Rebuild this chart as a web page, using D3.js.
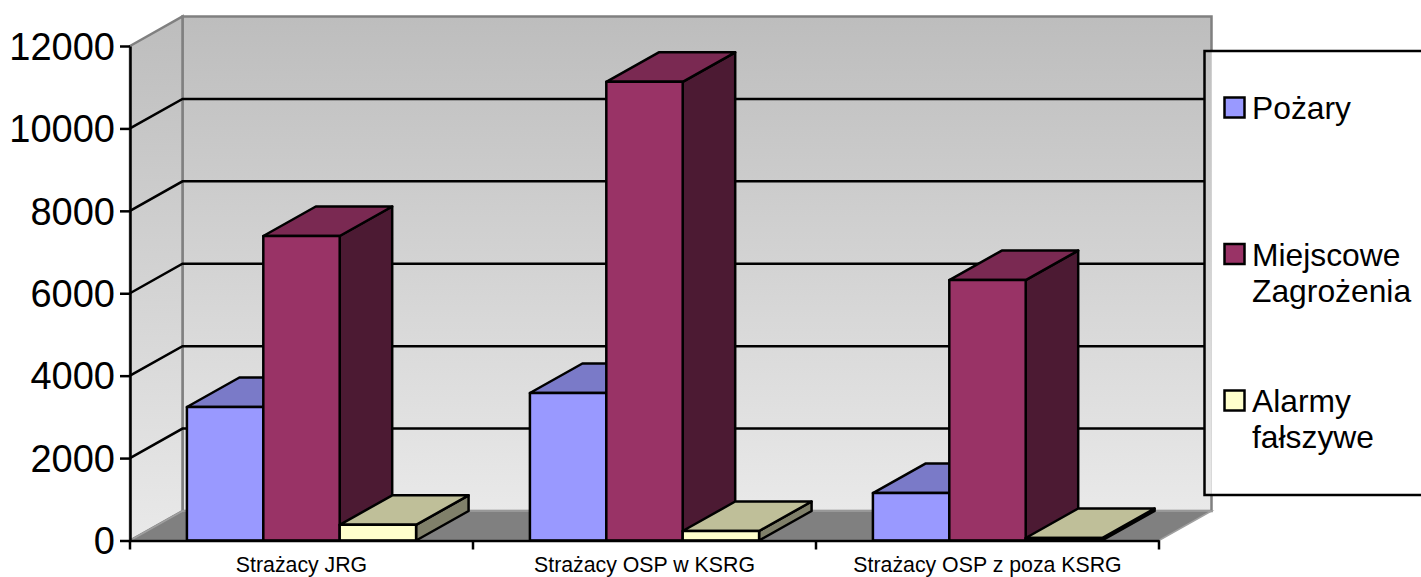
<!DOCTYPE html>
<html>
<head>
<meta charset="utf-8">
<script src="https://cdn.jsdelivr.net/npm/d3@7"></script>
<style>
  html, body { margin: 0; padding: 0; background: #fff; overflow: hidden; }
  svg { display: block; }
  text { font-family: "Liberation Sans", Arial, sans-serif; fill: #000; }
</style>
</head>
<body>
<svg id="chart" width="1421" height="577"></svg>
<script>
var categories = ["Strażacy JRG", "Strażacy OSP w KSRG", "Strażacy OSP z poza KSRG"];
var seriesNames = ["Pożary", "Miejscowe Zagrożenia", "Alarmy fałszywe"];
var pozary = [3240, 3580, 1150];
var miejscowe = [7390, 11130, 6320];
var alarmy = [380, 230, 60];
var yTicks = [0, 2000, 4000, 6000, 8000, 10000, 12000];
var legendLines = [["Pożary"], ["Miejscowe", "Zagrożenia"], ["Alarmy", "fałszywe"]];

var seriesValues = [pozary, miejscowe, alarmy];
var frontColors = ["#9999ff", "#993366", "#ffffcc"];
var topColors = ["#7a7ac8", "#7a2952", "#bfbf99"];
var sideColors = ["#5c5c99", "#4c1a33", "#80806a"];

// plot box, the depth offset is what makes it look 3d
var left = 130, right = 1159, top_ = 46, bottom = 540.5;
var depthX = 52.5, depthY = -29.5;
var legendBox = { x: 1204.5, y: 51, bottom: 495 };

var svg = d3.select("#chart");

var x = d3.scaleBand().domain(categories).range([left, right]);
var xInner = d3.scaleBand().domain(seriesNames)
  .range([0, x.bandwidth()]).paddingInner(0).paddingOuter(0.745);
var y = d3.scaleLinear().domain([0, 12000]).range([bottom, top_]);

var defs = svg.append("defs");
var grad = defs.append("linearGradient")
  .attr("id", "wall").attr("x1", 0).attr("y1", 0).attr("x2", 0).attr("y2", 1);
grad.append("stop").attr("offset", "0%").attr("stop-color", "#bdbdbd");
grad.append("stop").attr("offset", "100%").attr("stop-color", "#e9e9e9");
// same colours in page coordinates, for the strip seen inside the legend
var gradBack = defs.append("linearGradient")
  .attr("id", "wallBack").attr("gradientUnits", "userSpaceOnUse")
  .attr("x1", 0).attr("y1", y(12000) + depthY).attr("x2", 0).attr("y2", y(0) + depthY);
gradBack.append("stop").attr("offset", "0%").attr("stop-color", "#bdbdbd");
gradBack.append("stop").attr("offset", "100%").attr("stop-color", "#e9e9e9");

function pts(list) {
  return list.map(function (p) { return p[0] + "," + p[1]; }).join(" ");
}

// walls and floor
var backL = left + depthX, backR = right + depthX;
svg.append("polygon")
  .attr("points", pts([[backL, y(12000) + depthY], [backR, y(12000) + depthY], [backR, y(0) + depthY], [backL, y(0) + depthY]]))
  .attr("fill", "url(#wallBack)").attr("stroke", "#808080").attr("stroke-width", 2.5);
svg.append("polygon")
  .attr("points", pts([[left, y(12000)], [backL, y(12000) + depthY], [backL, y(0) + depthY], [left, y(0)]]))
  .attr("fill", "url(#wall)").attr("stroke", "#808080").attr("stroke-width", 2.5);
svg.append("polygon")
  .attr("points", pts([[left, y(0)], [backL, y(0) + depthY], [backR, y(0) + depthY], [right, y(0)]]))
  .attr("fill", "#808080").attr("stroke", "#a0a0a0").attr("stroke-width", 1.5);

// gridlines, they stop at the legend frame
svg.append("g").selectAll("polyline")
  .data(yTicks.filter(function (d) { return d > 0 && d < 12000; }))
  .enter().append("polyline")
  .attr("points", function (d) {
    return pts([[left, y(d)], [backL, y(d) + depthY], [legendBox.x, y(d) + depthY]]);
  })
  .attr("fill", "none").attr("stroke", "#000").attr("stroke-width", 2.5);

// bars
categories.forEach(function (cat, i) {
  seriesNames.forEach(function (name, s) {
    var v = seriesValues[s][i];
    var x0 = x(cat) + xInner(name), x1 = x0 + xInner.bandwidth();
    var yTop = y(v), yBase = y(0);
    var g = svg.append("g").attr("stroke", "#000").attr("stroke-width", 2.5).attr("stroke-linejoin", "round");
    g.append("polygon")
      .attr("points", pts([[x1, yTop], [x1 + depthX, yTop + depthY], [x1 + depthX, yBase + depthY], [x1, yBase]]))
      .attr("fill", sideColors[s]);
    g.append("polygon")
      .attr("points", pts([[x0, yTop], [x0 + depthX, yTop + depthY], [x1 + depthX, yTop + depthY], [x1, yTop]]))
      .attr("fill", topColors[s]);
    g.append("rect")
      .attr("x", x0).attr("y", yTop)
      .attr("width", x1 - x0).attr("height", yBase - yTop)
      .attr("fill", frontColors[s]);
  });
});

// axes
var yAxis = svg.append("g")
  .attr("transform", "translate(" + left + ",0)")
  .call(d3.axisLeft(y).tickValues(yTicks).tickSize(10).tickSizeOuter(0).tickPadding(5).tickFormat(d3.format("d")));
yAxis.selectAll("text").attr("dy", "0.35em").style("font-size", "38px").style("font-family", '"Liberation Sans", Arial, sans-serif');
yAxis.selectAll("line").attr("stroke", "#000").attr("stroke-width", 2.5);
yAxis.select(".domain").attr("stroke", "#000").attr("stroke-width", 2.5);

var xAxis = svg.append("g")
  .attr("transform", "translate(0," + bottom + ")")
  .call(d3.axisBottom(x).tickSize(0).tickPadding(16));
xAxis.selectAll("text").style("font-size", "21.3px").style("font-family", '"Liberation Sans", Arial, sans-serif');
xAxis.select(".domain").attr("stroke", "#000").attr("stroke-width", 2.5);
svg.append("g").selectAll("line")
  .data(categories.concat(["end"]))
  .enter().append("line")
  .attr("x1", function (d, i) { return left + i * x.step(); })
  .attr("x2", function (d, i) { return left + i * x.step(); })
  .attr("y1", bottom).attr("y2", bottom + 9)
  .attr("stroke", "#000").attr("stroke-width", 2.5);

// legend covers the wall border, only a strip of the wall stays visible
svg.append("rect")
  .attr("x", legendBox.x).attr("y", legendBox.y)
  .attr("width", backR - legendBox.x).attr("height", legendBox.bottom - legendBox.y)
  .attr("fill", "url(#wallBack)");
svg.append("rect")
  .attr("x", backR).attr("y", legendBox.y)
  .attr("width", 1421 - backR).attr("height", legendBox.bottom - legendBox.y)
  .attr("fill", "#fff");
svg.append("path")
  .attr("d", "M1421," + legendBox.y + "H" + legendBox.x + "V" + legendBox.bottom + "H1421")
  .attr("fill", "none").attr("stroke", "#000").attr("stroke-width", 2.5);

var legendY = d3.scalePoint().domain(seriesNames).range([107.5, 400.5]);
seriesNames.forEach(function (name, s) {
  var cy = legendY(name);
  svg.append("rect")
    .attr("x", 1224.5).attr("y", cy - 10)
    .attr("width", 20).attr("height", 20)
    .attr("fill", frontColors[s]).attr("stroke", "#000").attr("stroke-width", 2.5);
  legendLines[s].forEach(function (line, k) {
    svg.append("text")
      .attr("x", 1252).attr("y", cy + 11.5 + k * 36)
      .style("font-size", "31.8px")
      .text(line);
  });
});
</script>
</body>
</html>
